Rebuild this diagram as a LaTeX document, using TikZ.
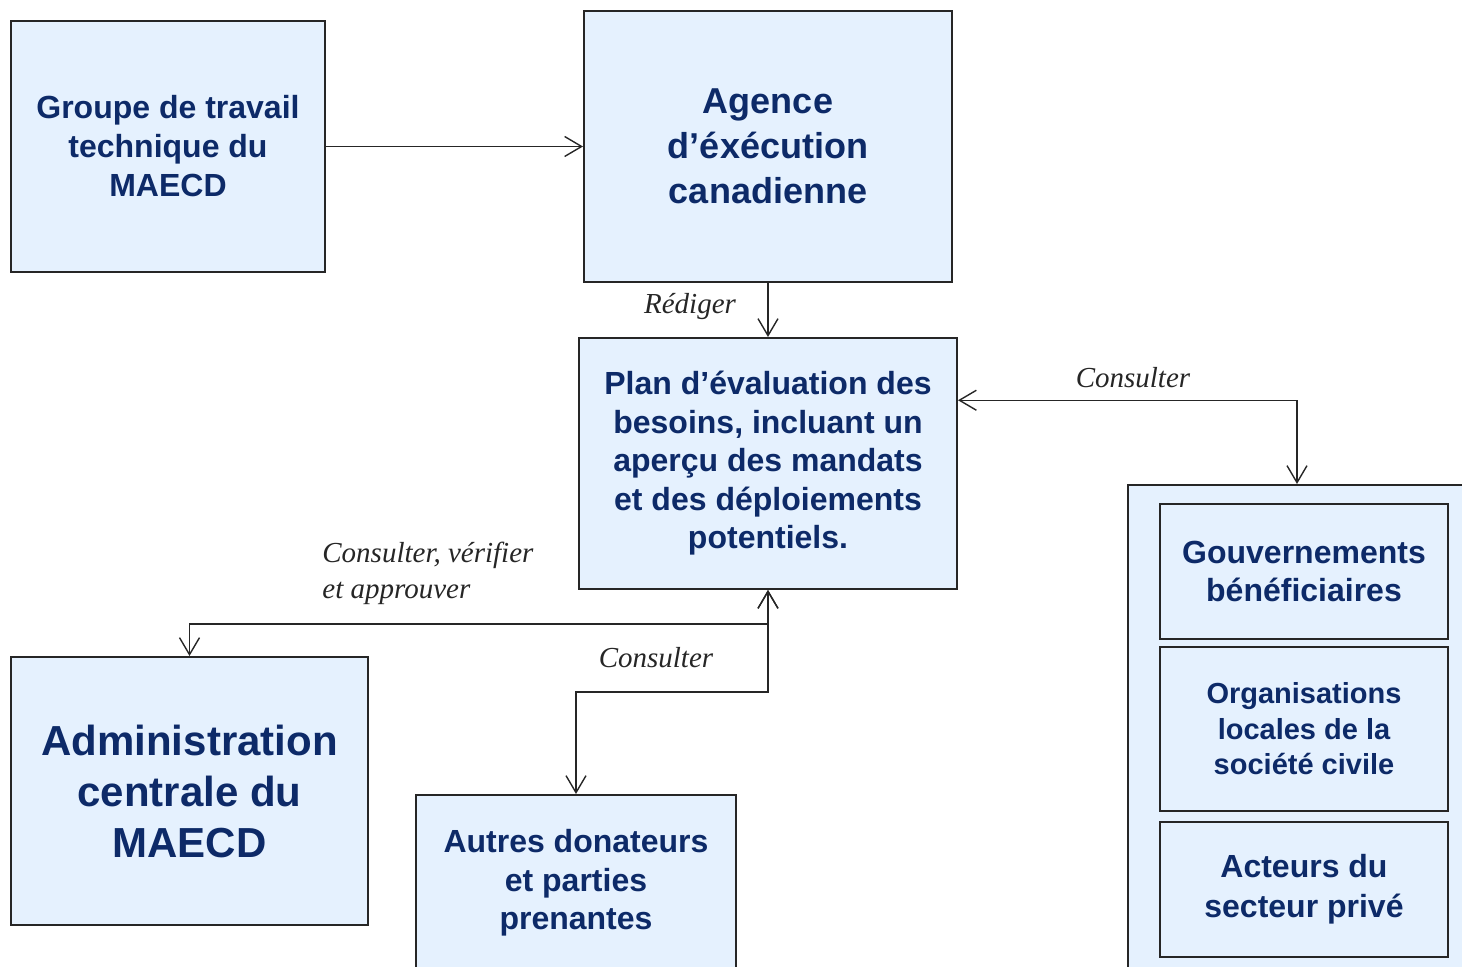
\documentclass[tikz,border=0pt]{standalone}
\usepackage{fontspec}
\setmainfont{Liberation Serif}
\setsansfont{Liberation Sans}
\usepackage{tikz}
\usetikzlibrary{arrows.meta,calc}
\definecolor{boxfill}{HTML}{E5F1FE}
\definecolor{boxtext}{HTML}{0D2A68}
\definecolor{edge}{HTML}{262626}
\newcommand{\boxfont}[2]{\sffamily\bfseries\fontsize{#1}{#2}\selectfont}

\begin{document}
\begin{tikzpicture}[
    x=0.5pt, y=-0.5pt,
    unit/.style={rectangle, draw=edge, fill=boxfill, line width=1pt, text=boxtext, align=center, inner sep=0pt},
    lbl/.style={font=\fontsize{14.5}{18}\selectfont\itshape, text=black!85, inner sep=0pt},
    flow/.style={-{Straight Barb[length=8.5pt,width=10pt]}, line width=0.7pt, draw=black!85},
    both/.style={{Straight Barb[length=8.5pt,width=10pt]}-{Straight Barb[length=8.5pt,width=10pt]}, line width=0.7pt, draw=black!85}
]
    \useasboundingbox (0,0) rectangle (1462,967);

    % top row
    \node[unit, minimum width=157pt, minimum height=125.5pt, font={\boxfont{16}{19.5}}] (groupe) at (168,146.5) {Groupe de travail\\technique du\\MAECD};
    \node[unit, minimum width=184pt, minimum height=135.5pt, font={\boxfont{18}{22.5}}] (agence) at (768,146.5) {Agence\\d’éxécution\\canadienne};

    % plan
    \node[unit, minimum width=189pt, minimum height=125.5pt, font={\boxfont{16}{19.25}}] (plan) at (768,463.5) {Plan d’évaluation des\\besoins, incluant un\\aperçu des mandats\\et des déploiements\\potentiels.};

    % bottom left
    \node[unit, minimum width=178.5pt, minimum height=134pt, font={\boxfont{21}{25.5}}] (admin) at (189.5,791) {Administration\\centrale du\\MAECD};
    \node[unit, minimum width=160pt, minimum height=88pt, font={\boxfont{16}{19.25}}] (autres) at (576,883) {Autres donateurs\\et parties\\prenantes};

    % right group
    \node[unit, minimum width=169pt, minimum height=250pt] (groupe2) at (1297,735) {};
    \node[unit, minimum width=144pt, minimum height=67.5pt, font={\boxfont{16}{19}}] (gouv) at (1304,571.5) {Gouvernements\\bénéficiaires};
    \node[unit, minimum width=144pt, minimum height=82pt, font={\boxfont{14.5}{17.75}}] (orgs) at (1304,729) {Organisations\\locales de la\\société civile};
    \node[unit, minimum width=144pt, minimum height=67.5pt, font={\boxfont{16}{20}}] (acteurs) at (1304,889.5) {Acteurs du\\secteur privé};

    % connectors
    \draw[flow] (groupe) -- (agence);
    \draw[flow] (agence) -- (plan);
    \draw[both] ($(plan.north east)!0.25!(plan.south east)$) -| (groupe2.north);
    \draw[both] (plan.south) -- ++(0,34) -| (admin.north);
    \draw[both] (plan.south) -- ++(0,102) -| (autres.north);

    % labels
    \node[lbl] (rediger) at (690,307) {Rédiger};
    \node[lbl] (consult1) at (1133,378) {Consulter};
    \node[lbl, anchor=west, align=left] (consult2) at (322,573) {Consulter, vérifier\\et approuver};
    \node[lbl] (consult3) at (656,658) {Consulter};
\end{tikzpicture}
\end{document}
